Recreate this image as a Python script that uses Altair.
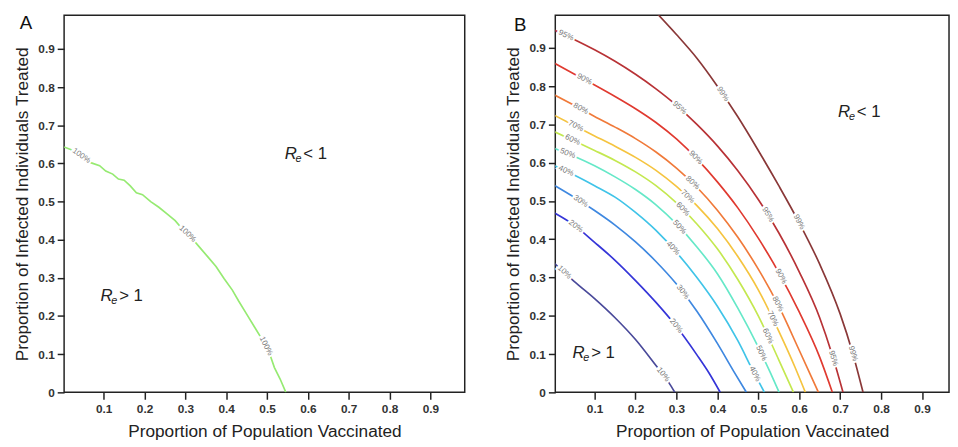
import altair as alt
import numpy as np
import pandas as pd

FONT = "Liberation Sans"

# ---------------- Panel A: single threshold curve ----------------
a_x = [0.003, 0.025, 0.045, 0.068, 0.09, 0.105, 0.122, 0.136, 0.15, 0.165, 0.18, 0.195,
       0.215, 0.235, 0.255, 0.275, 0.295, 0.315, 0.335, 0.355, 0.375, 0.395, 0.415,
       0.43, 0.45, 0.47, 0.49, 0.505, 0.518, 0.532, 0.546]
a_y = [0.643, 0.634, 0.62, 0.602, 0.594, 0.58, 0.572, 0.559, 0.556, 0.541, 0.523, 0.518,
       0.5, 0.485, 0.468, 0.45, 0.425, 0.405, 0.38, 0.355, 0.33, 0.298, 0.268,
       0.24, 0.205, 0.17, 0.135, 0.105, 0.065, 0.035, 0.0]
a_label_x = [0.045, 0.305, 0.497]
a_level = "100%"

# ---------------- Panel B: contour levels ----------------
levels = ["10%", "20%", "30%", "40%", "50%", "60%", "70%", "80%", "90%", "95%", "99%"]
level_colors = ["#4a4a9a", "#3535d8", "#3f88e0", "#40c4e8", "#66e8c8", "#c4e850",
                "#f5c440", "#f07a3a", "#e03a30", "#b83236", "#8a3838"]

c10_x = [0.0, 0.05, 0.10, 0.15, 0.20, 0.25, 0.28, 0.296]
c10_y = [0.339, 0.290, 0.245, 0.195, 0.138, 0.070, 0.028, 0.0]
c20_x = [0.0, 0.05, 0.10, 0.15, 0.20, 0.25, 0.30, 0.35, 0.38, 0.407]
c20_y = [0.470, 0.437, 0.392, 0.345, 0.292, 0.235, 0.172, 0.098, 0.050, 0.0]
c30_x = [0.0, 0.05, 0.10, 0.15, 0.20, 0.25, 0.30, 0.35, 0.40, 0.44, 0.471]
c30_y = [0.542, 0.510, 0.475, 0.437, 0.393, 0.342, 0.283, 0.212, 0.128, 0.055, 0.0]
c40_x = [0.0, 0.05, 0.10, 0.15, 0.20, 0.25, 0.30, 0.35, 0.40, 0.45, 0.49, 0.515]
c40_y = [0.593, 0.568, 0.540, 0.510, 0.470, 0.423, 0.366, 0.300, 0.225, 0.135, 0.050, 0.0]
c50_x = [0.0, 0.05, 0.10, 0.15, 0.20, 0.25, 0.30, 0.35, 0.40, 0.45, 0.50, 0.53, 0.551]
c50_y = [0.638, 0.617, 0.592, 0.563, 0.530, 0.490, 0.440, 0.380, 0.310, 0.220, 0.118, 0.050, 0.0]
c60_x = [0.0, 0.05, 0.10, 0.15, 0.20, 0.25, 0.30, 0.35, 0.40, 0.45, 0.50, 0.55, 0.586]
c60_y = [0.682, 0.657, 0.632, 0.606, 0.576, 0.540, 0.495, 0.440, 0.375, 0.295, 0.200, 0.085, 0.0]
c70_x = [0.0, 0.05, 0.10, 0.15, 0.20, 0.25, 0.30, 0.35, 0.40, 0.45, 0.50, 0.55, 0.59, 0.615]
c70_y = [0.725, 0.697, 0.670, 0.643, 0.614, 0.580, 0.538, 0.488, 0.428, 0.355, 0.268, 0.160, 0.065, 0.0]
c80_x = [0.0, 0.05, 0.10, 0.15, 0.20, 0.25, 0.30, 0.35, 0.40, 0.45, 0.50, 0.55, 0.60, 0.63, 0.647]
c80_y = [0.778, 0.750, 0.721, 0.693, 0.663, 0.628, 0.586, 0.536, 0.476, 0.405, 0.322, 0.225, 0.110, 0.040, 0.0]
c90_x = [0.0, 0.05, 0.10, 0.15, 0.20, 0.25, 0.30, 0.35, 0.40, 0.45, 0.50, 0.55, 0.60, 0.65, 0.681]
c90_y = [0.861, 0.832, 0.803, 0.773, 0.741, 0.705, 0.662, 0.610, 0.550, 0.482, 0.403, 0.313, 0.210, 0.092, 0.0]
c95_x = [0.0, 0.05, 0.10, 0.15, 0.20, 0.25, 0.30, 0.35, 0.40, 0.45, 0.50, 0.55, 0.60, 0.65, 0.68, 0.707]
c95_y = [0.947, 0.922, 0.895, 0.865, 0.831, 0.793, 0.750, 0.700, 0.644, 0.579, 0.504, 0.417, 0.315, 0.195, 0.100, 0.0]
c99_x = [0.25, 0.30, 0.35, 0.40, 0.45, 0.50, 0.55, 0.60, 0.65, 0.70, 0.73, 0.756]
c99_y = [0.993, 0.935, 0.873, 0.800, 0.720, 0.632, 0.540, 0.443, 0.335, 0.205, 0.105, 0.0]

lab10 = [0.026, 0.267]
lab20 = [0.054, 0.299]
lab30 = [0.066, 0.315]
lab40 = [0.030, 0.291, 0.491]
lab50 = [0.034, 0.307, 0.507]
lab60 = [0.046, 0.315, 0.523]
lab70 = [0.054, 0.327, 0.535]
lab80 = [0.066, 0.339, 0.547]
lab90 = [0.075, 0.347, 0.555]
lab95 = [0.030, 0.307, 0.523, 0.683]
lab99 = [0.413, 0.599, 0.731]

# region annotations (R_e) : x, y of the text start, relation text
ann_a_x = [0.543, 0.092]
ann_a_y = [0.625, 0.253]
ann_b_x = [0.695, 0.046]
ann_b_y = [0.731, 0.103]
ann_rel = ["< 1", "> 1"]

tick_x = [0.1, 0.2, 0.3, 0.4, 0.5, 0.6, 0.7, 0.8, 0.9]
tick_y = [0, 0.1, 0.2, 0.3, 0.4, 0.5, 0.6, 0.7, 0.8, 0.9]

X_TITLE = "Proportion of Population Vaccinated"
Y_TITLE = "Proportion of Infected Individuals Treated"

# panel geometry
A_W, A_H = 407, 383
A_XD, A_YD = [0.003, 0.984], [0.0, 0.988]
B_W, B_H = 400, 383
B_XD, B_YD = [0.004, 0.966], [0.0, 0.985]


def enc_x(dom):
    return alt.X("x:Q", scale=alt.Scale(domain=dom, nice=False, zero=False),
                 axis=alt.Axis(values=tick_x, format=".1~f", title=X_TITLE))


def enc_y(dom):
    return alt.Y("y:Q", scale=alt.Scale(domain=dom, nice=False, zero=False),
                 axis=alt.Axis(values=tick_y, format=".1~f", title=Y_TITLE))


def label_table(curves, xdom, ydom, w, h):
    xpx = w / (xdom[1] - xdom[0])
    ypx = h / (ydom[1] - ydom[0])
    rows = []
    for lev, xs, ys, lxs in curves:
        for lx in lxs:
            hh = 0.012
            y1 = np.interp(lx - hh, xs, ys)
            y2 = np.interp(lx + hh, xs, ys)
            slope = (y2 - y1) / (2 * hh)
            ang = float(np.degrees(np.arctan(-slope * ypx / xpx)))
            rows.append({"x": lx, "y": float(np.interp(lx, xs, ys)), "t": lev, "angle": ang})
    return pd.DataFrame(rows)


def annotations(xs, ys, xdom, ydom):
    df = pd.DataFrame({"x": xs, "y": ys, "rel": ann_rel})
    X, Y = enc_x(xdom), enc_y(ydom)
    r = alt.Chart(df).mark_text(text="R", font=FONT, fontSize=17, fontStyle="italic",
                                align="left", baseline="middle", color="#222").encode(x=X, y=Y)
    e = alt.Chart(df).mark_text(text="e", font=FONT, fontSize=11, fontStyle="italic",
                                align="left", baseline="middle", dx=11, dy=5, color="#222").encode(x=X, y=Y)
    rest = alt.Chart(df).mark_text(font=FONT, fontSize=17, align="left", baseline="middle",
                                   dx=19, color="#222").encode(x=X, y=Y, text="rel:N")
    return r + e + rest


def contour_labels(df, xdom, ydom):
    X, Y = enc_x(xdom), enc_y(ydom)
    halo = alt.Chart(df).mark_text(font=FONT, fontSize=8, stroke="white", strokeWidth=4,
                                   fill="white").encode(x=X, y=Y, text="t:N",
                                                         angle=alt.Angle("angle:Q", scale=None))
    txt = alt.Chart(df).mark_text(font=FONT, fontSize=8, fill="#777777").encode(
        x=X, y=Y, text="t:N", angle=alt.Angle("angle:Q", scale=None))
    return halo + txt


def letter(t, px, py):
    return alt.Chart(pd.DataFrame({"t": [t]})).mark_text(
        font=FONT, fontSize=19, align="left", baseline="alphabetic", color="#111"
    ).encode(x=alt.value(px), y=alt.value(py), text="t:N")


# ---- panel A
dfa = pd.DataFrame({"x": a_x, "y": a_y})
line_a = alt.Chart(dfa).mark_line(color="#96ea72", strokeWidth=1.7, clip=True).encode(
    x=enc_x(A_XD), y=enc_y(A_YD))
lab_a = label_table([(a_level, a_x, a_y, a_label_x)], A_XD, A_YD, A_W, A_H)
panel_a = (line_a + contour_labels(lab_a, A_XD, A_YD) +
           annotations(ann_a_x, ann_a_y, A_XD, A_YD) + letter("A", -45, 14)).properties(
    width=A_W, height=A_H)

# ---- panel B
curves = [
    ("10%", c10_x, c10_y, lab10), ("20%", c20_x, c20_y, lab20), ("30%", c30_x, c30_y, lab30),
    ("40%", c40_x, c40_y, lab40), ("50%", c50_x, c50_y, lab50), ("60%", c60_x, c60_y, lab60),
    ("70%", c70_x, c70_y, lab70), ("80%", c80_x, c80_y, lab80), ("90%", c90_x, c90_y, lab90),
    ("95%", c95_x, c95_y, lab95), ("99%", c99_x, c99_y, lab99),
]
rows = []
for lev, xs, ys, _ in curves:
    for i, (xv, yv) in enumerate(zip(xs, ys)):
        rows.append({"x": xv, "y": yv, "level": lev, "i": i})
dfb = pd.DataFrame(rows)
lines_b = alt.Chart(dfb).mark_line(strokeWidth=1.7, clip=True, interpolate="monotone").encode(
    x=enc_x(B_XD), y=enc_y(B_YD),
    color=alt.Color("level:N", scale=alt.Scale(domain=levels, range=level_colors), legend=None),
    order="i:Q")
lab_b = label_table(curves, B_XD, B_YD, B_W, B_H)
panel_b = (lines_b + contour_labels(lab_b, B_XD, B_YD) +
           annotations(ann_b_x, ann_b_y, B_XD, B_YD) + letter("B", -42, 16)).properties(
    width=B_W, height=B_H)

chart = alt.hconcat(panel_a, panel_b, spacing=38).properties(
    padding={"left": 4, "top": 2, "right": 0, "bottom": 0}
).configure_axis(
    labelFont=FONT, titleFont=FONT, labelFontSize=12, labelFontWeight="bold",
    labelColor="#333", titleFontSize=17.5, titleFontWeight="normal", titleColor="#222",
    tickColor="#222", tickSize=7, tickWidth=1.5, domain=False, grid=False
).configure_axisX(labelPadding=4, titlePadding=9).configure_axisY(
    labelPadding=3, titlePadding=7
).configure_view(stroke="#222", strokeWidth=1.5)

chart.save("out.html", embed_options={"renderer": "svg", "actions": False})
